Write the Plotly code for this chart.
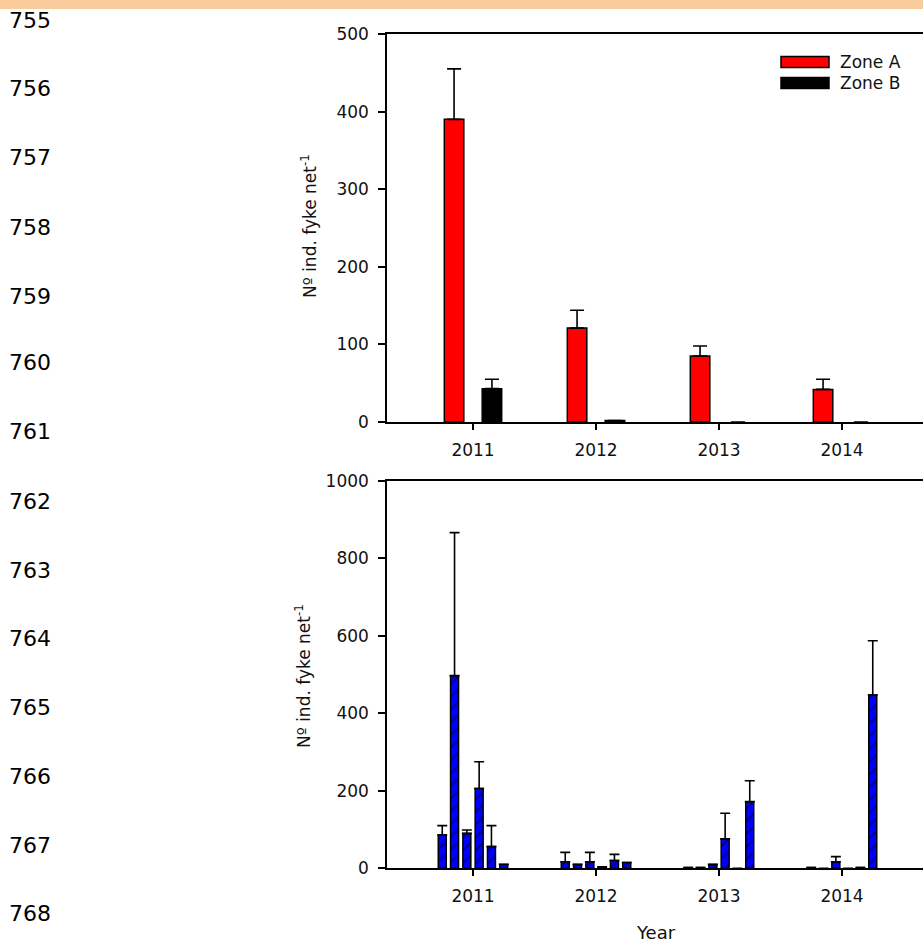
import plotly.graph_objects as go

# ---- data -------------------------------------------------------------
years = ["2011", "2012", "2013", "2014"]

# upper panel: mean catch per fyke net by zone, with upper error (SE)
zone_a = [390, 121, 85, 42]
zone_a_err = [65, 23, 13, 13]
zone_b = [43, 2, 0, 0]
zone_b_err = [12, None, None, None]

# lower panel: six sampling groups per year
groups_vals = [
    [86, 17, 2, 2],
    [497, 10, 2, 0],
    [90, 17, 10, 17],
    [206, 4, 76, 0],
    [56, 20, 0, 2],
    [10, 15, 172, 447],
]
groups_err = [
    [24, 24, None, None],
    [369, None, None, None],
    [9, 24, None, 13],
    [69, None, 66, None],
    [54, 16, None, None],
    [None, None, 54, 140],
]

line_numbers = [str(n) for n in range(755, 769)]
line_number_y = [20, 89, 157, 227, 296, 363, 432, 501, 570, 638, 707, 776, 845, 913]

y_title = "Nº ind. fyke net<sup>-1</sup>"

# ---- layout helpers (pixel -> paper) ------------------------------------
W, H = 923, 945
def px(x):
    return x / W
def py(y):
    return 1 - y / H

FONT = "DejaVu Sans"
INK = "#111111"


def outline_widths(vals):
    # empty (zero) bars get no outline
    return [1.5 if v > 0 else 0 for v in vals]


def lower_only(errs):
    return [0 if e is not None else None for e in errs]


fig = go.Figure()

# upper panel bars
cat_px = 123.0
top_w = 19.5 / cat_px
top_centers = [-0.154, 0.154]
for vals, errs, color, c in [
    (zone_a, zone_a_err, "#FF0000", top_centers[0]),
    (zone_b, zone_b_err, "#000000", top_centers[1]),
]:
    fig.add_trace(go.Bar(
        x=years, y=vals, width=top_w, offset=c - top_w / 2,
        marker=dict(color=color,
                    line=dict(color="#000000", width=outline_widths(vals))),
        error_y=dict(type="data", symmetric=False, array=errs,
                     arrayminus=lower_only(errs),
                     color="#000000", thickness=1.6, width=7),
        xaxis="x", yaxis="y", showlegend=False,
    ))

# lower panel bars (hatched)
bot_w = 8 / cat_px
for i, (vals, errs) in enumerate(zip(groups_vals, groups_err)):
    c = (i - 2.5) * 0.1
    fig.add_trace(go.Bar(
        x=years, y=vals, width=bot_w, offset=c - bot_w / 2,
        marker=dict(color="#0000FF",
                    line=dict(color="#000000", width=outline_widths(vals)),
                    pattern=dict(shape="/", fgcolor="#000000", bgcolor="#0000FF",
                                 size=9, solidity=0.2)),
        error_y=dict(type="data", symmetric=False, array=errs,
                     arrayminus=lower_only(errs),
                     color="#000000", thickness=1.6, width=5),
        xaxis="x2", yaxis="y2", showlegend=False,
    ))

x_left = 387
x_range = [-86 / cat_px, -86 / cat_px + (W - x_left) / cat_px]

axis_common = dict(showline=True, linecolor="#000000", linewidth=1.5,
                   ticks="outside", tickcolor="#000000", tickwidth=1.5,
                   showgrid=False, zeroline=False, automargin=False,
                   tickfont=dict(family=FONT, size=17, color=INK))

fig.update_layout(
    width=W, height=H, autosize=False,
    margin=dict(l=0, r=0, t=0, b=0, pad=0, autoexpand=False),
    paper_bgcolor="white", plot_bgcolor="white",
    barmode="overlay", showlegend=False,
    xaxis=dict(domain=[px(x_left), 1], anchor="y", range=x_range,
               type="category", mirror=True, ticklen=6, ticklabelstandoff=6,
               **axis_common),
    yaxis=dict(domain=[py(422), py(34)], anchor="x", range=[0, 500],
               tickvals=[0, 100, 200, 300, 400, 500], ticklen=7,
               ticklabelstandoff=6, **axis_common),
    xaxis2=dict(domain=[px(x_left), 1], anchor="y2", range=x_range,
                type="category", mirror=True, ticklen=6, ticklabelstandoff=6,
                **axis_common),
    yaxis2=dict(domain=[py(868.3), py(480.7)], anchor="x2", range=[0, 1000],
                tickvals=[0, 200, 400, 600, 800, 1000], ticklen=7,
                ticklabelstandoff=6, **axis_common),
)

shapes = []
annotations = []

# header band
shapes.append(dict(type="rect", xref="paper", yref="paper",
                   x0=0, x1=1, y0=py(9), y1=1,
                   fillcolor="#FACB9B", line=dict(width=0), layer="below"))

# line numbers down the left margin
for txt, yy in zip(line_numbers, line_number_y):
    annotations.append(dict(text=txt, xref="paper", yref="paper",
                            x=px(7), y=py(yy), xanchor="left", yanchor="middle",
                            showarrow=False,
                            font=dict(family=FONT, size=22, color="#000000")))

# axis titles
for xc, yc in [(309, 226), (303, 676)]:
    annotations.append(dict(text=y_title, xref="paper", yref="paper",
                            x=px(xc), y=py(yc), xanchor="center", yanchor="middle",
                            textangle=-90, showarrow=False,
                            font=dict(family=FONT, size=17, color=INK)))
annotations.append(dict(text="Year", xref="paper", yref="paper",
                        x=px(656), y=py(932), xanchor="center", yanchor="middle",
                        showarrow=False, font=dict(family=FONT, size=18, color=INK)))

# legend
for label, color, yc in [("Zone A", "#FF0000", 62), ("Zone B", "#000000", 83)]:
    shapes.append(dict(type="rect", xref="paper", yref="paper",
                       x0=px(781), x1=px(829), y0=py(yc + 5.5), y1=py(yc - 5.5),
                       fillcolor=color, line=dict(color="#000000", width=1.5)))
    annotations.append(dict(text=label, xref="paper", yref="paper",
                            x=px(838), y=py(yc), xanchor="left", yanchor="middle",
                            showarrow=False,
                            font=dict(family=FONT, size=17, color=INK)))

fig.update_layout(shapes=shapes, annotations=annotations)

fig.write_html("out.html")
